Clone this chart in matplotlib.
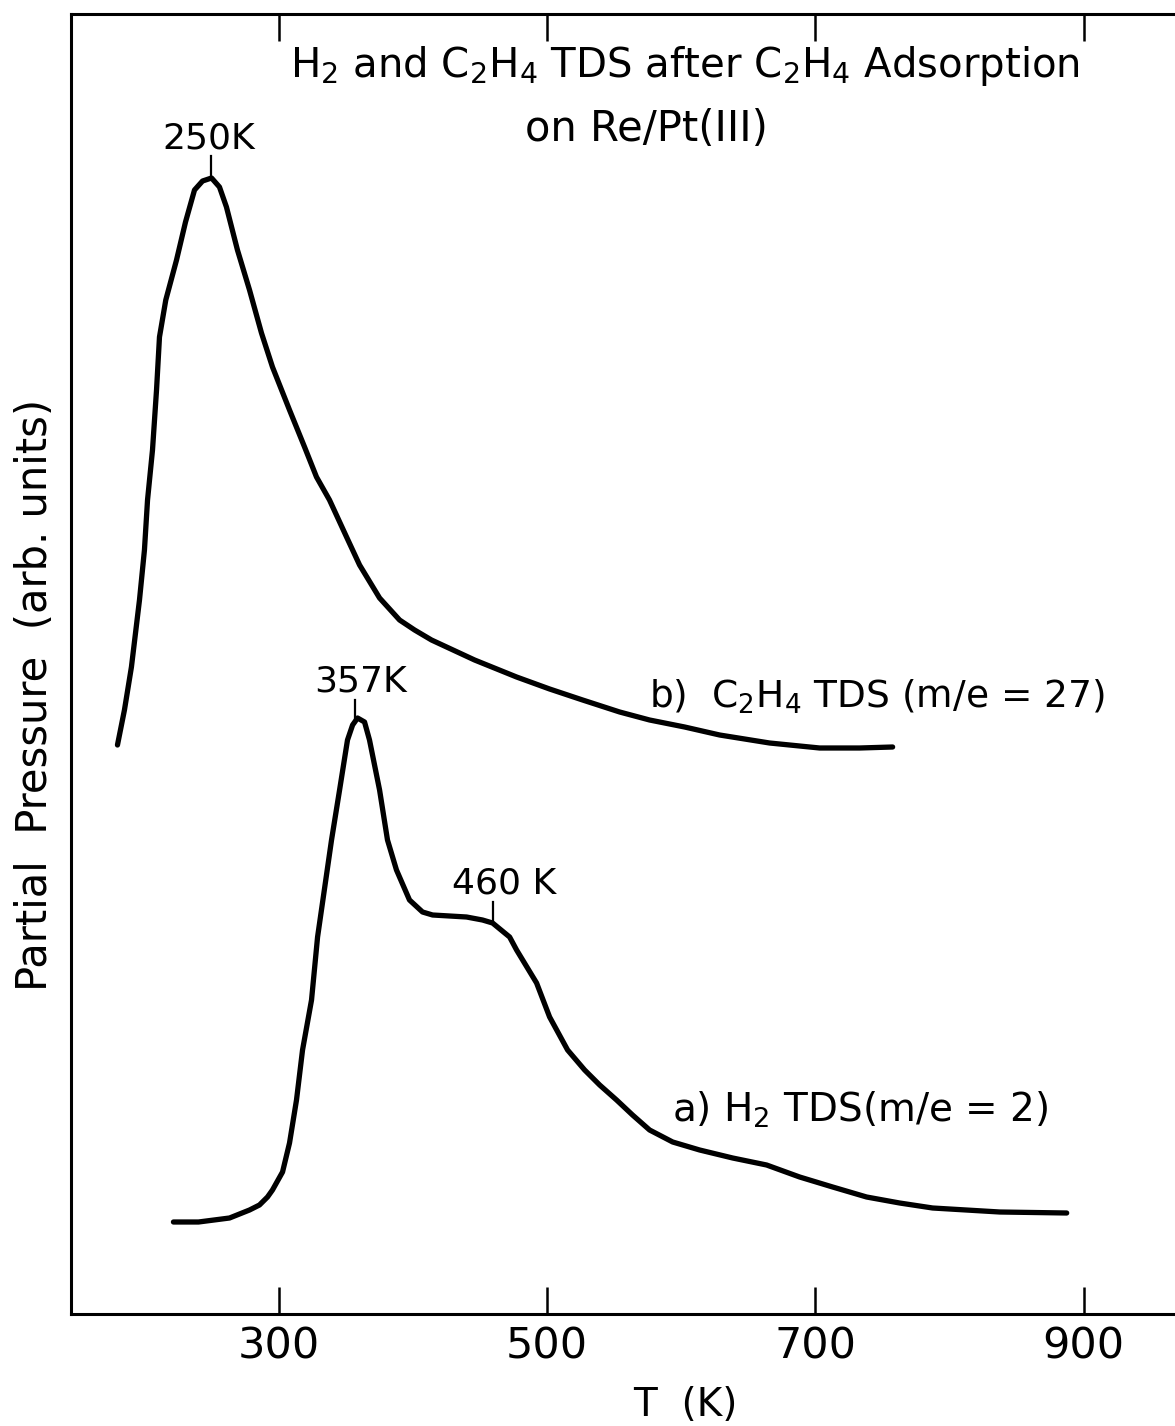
import matplotlib
matplotlib.use("Agg")
import matplotlib.pyplot as plt
import numpy as np

# b) C2H4 TDS (m/e = 27)
temp_b = [180.0, 185.2, 190.4, 196.4, 200.1, 202.4, 206.1, 209.1, 211.3, 216.0,
          224.0, 230.7, 237.4, 243.4, 250.1, 256.0, 261.2, 269.4, 278.4, 287.3,
          295.5, 308.2, 319.4, 328.3, 338.0, 350.7, 360.4, 375.3, 390.2, 401.4,
          414.0, 446.1, 477.4, 502.0, 526.6, 554.2, 576.5, 602.6, 628.7, 665.9,
          703.2, 733.0, 757.6]
pres_b = [569, 604, 647, 714, 764, 814, 864, 924, 977, 1014,
          1054, 1092, 1124, 1133, 1136, 1127, 1107, 1064, 1024, 981,
          947, 904, 867, 837, 814, 777, 749, 716, 694, 684,
          674, 654, 637, 625, 614, 602, 594, 587, 579, 571,
          566, 566, 567]

# a) H2 TDS (m/e = 2)
temp_a = [221.7, 240.4, 263.5, 278.4, 285.8, 291.8, 295.5, 303.0, 308.2, 313.4,
          317.9, 324.6, 329.1, 339.5, 345.5, 351.4, 355.2, 358.9, 364.1, 367.8,
          375.3, 381.2, 387.9, 397.6, 407.3, 414.8, 440.1, 452.0, 459.5, 472.2,
          477.4, 492.3, 502.0, 515.4, 528.1, 539.3, 551.9, 563.8, 576.5, 593.7,
          613.8, 638.4, 663.7, 688.3, 712.9, 738.2, 762.8, 787.4, 837.4, 887.3]
pres_a = [92, 92, 96, 104, 109, 117, 124, 142, 171, 214,
          264, 314, 377, 474, 524, 574, 589, 596, 592, 574,
          524, 474, 444, 414, 402, 399, 397, 394, 391, 377,
          364, 331, 297, 264, 244, 229, 214, 199, 184, 172,
          164, 156, 149, 137, 127, 117, 111, 106, 102, 101]

xticks = [300, 500, 700, 900]
peak_labels = ["250K", "357K", "460 K"]
peak_temps = [250, 357, 460]
peak_series = ["b", "a", "a"]
label_shift = [-2, 4, 8]  # horizontal nudge of each label, K

plt.rcParams["font.family"] = ["DejaVu Sans"]
plt.rcParams["mathtext.fontset"] = "dejavusans"

W, H = 1175, 1426
fig = plt.figure(figsize=(W / 100, H / 100), dpi=100)
ax = fig.add_axes([70.5 / W, 1 - 1314 / H, 1 - 70.5 / W, 1300 / H])
ax.set_xlim(145, 968)
ax.set_ylim(0, 1300)

style = dict(color="black", lw=3.8, solid_joinstyle="round", solid_capstyle="round")
ax.plot(temp_b, pres_b, **style)
ax.plot(temp_a, pres_a, **style)

series = {"b": (temp_b, pres_b), "a": (temp_a, pres_a)}
for label, t, s, dx in zip(peak_labels, peak_temps, peak_series, label_shift):
    xs, ys = series[s]
    top = np.interp(t, xs, ys)
    ax.plot([t, t], [top, top + 22], color="black", lw=1.6)
    ax.text(t + dx, top + 40, label, ha="center", va="center", fontsize=26)

ax.spines["right"].set_visible(False)
for side in ["left", "top", "bottom"]:
    ax.spines[side].set_linewidth(2.2)

ax.set_xticks(xticks)
ax.set_xticklabels([str(v) for v in xticks])
ax.tick_params(axis="x", direction="in", length=19.5, width=1.8, top=True,
               labelsize=31, pad=8)
ax.set_yticks([])

ax.text(603, 1248, r"H$_2$ and C$_2$H$_4$ TDS after C$_2$H$_4$ Adsorption",
        ha="center", va="center", fontsize=29)
ax.text(574, 1185, "on Re/Pt(III)", ha="center", va="center", fontsize=30)

ax.text(576, 617, r"b)  C$_2$H$_4$ TDS (m/e = 27)", ha="left", va="center", fontsize=27)
ax.text(593, 204, r"a) H$_2$ TDS(m/e = 2)", ha="left", va="center", fontsize=28)

fig.text(685 / W, 1 - 1405 / H, "T  (K)", ha="center", va="center", fontsize=28)
fig.text(35 / W, 1 - 695 / H, "Partial  Pressure  (arb. units)", ha="center",
         va="center", rotation=90, fontsize=30)

fig.savefig("out.png", dpi=100)
